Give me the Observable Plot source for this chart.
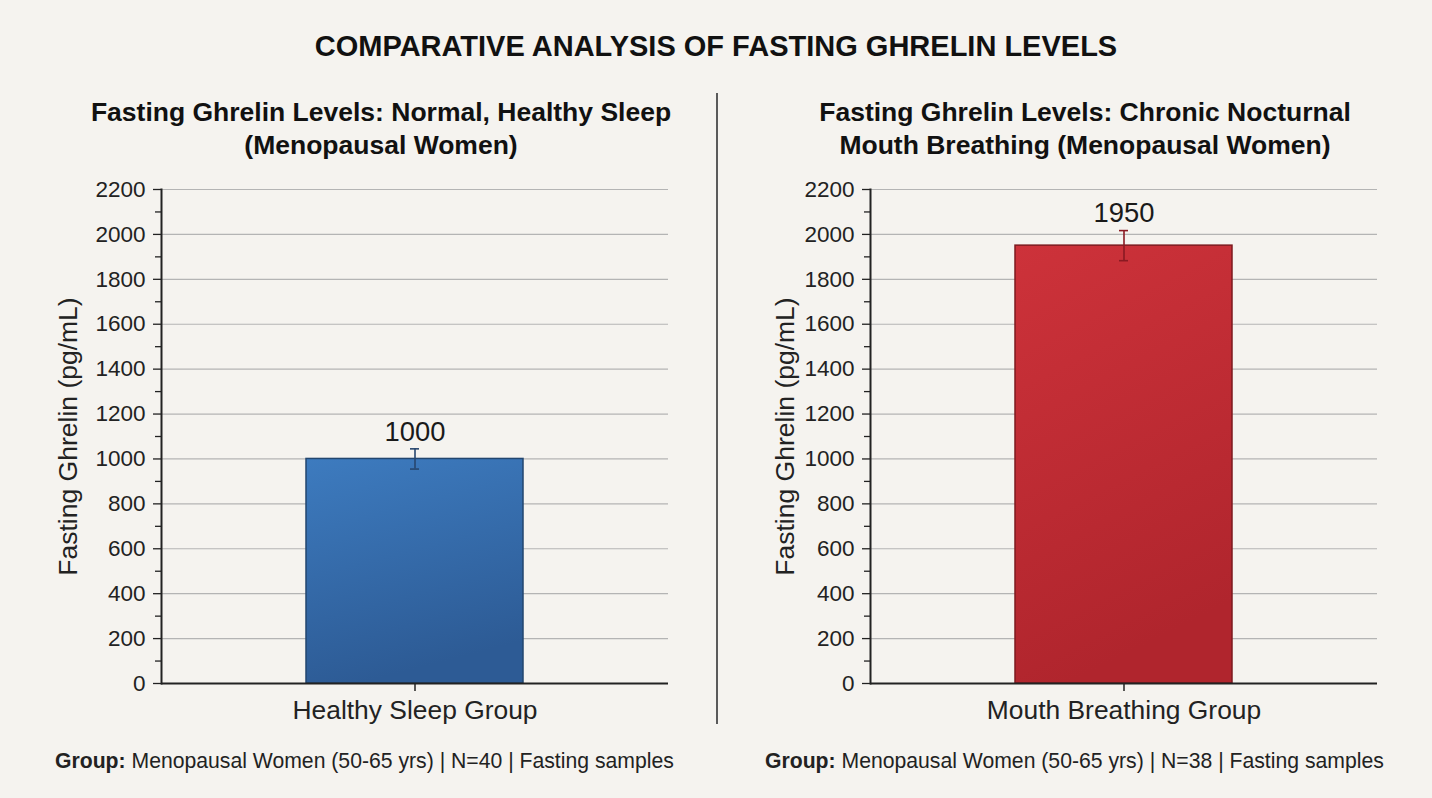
<!DOCTYPE html>
<html><head><meta charset="utf-8">
<script src="https://cdn.jsdelivr.net/npm/d3@7"></script>
<script src="https://cdn.jsdelivr.net/npm/@observablehq/plot@0.6"></script>
<style>
body{margin:0;background:#f5f3ef;width:1432px;height:798px;overflow:hidden;position:relative;font-family:"Liberation Sans",Arial,sans-serif;color:#111}
.abs{position:absolute}
#title{top:29px;left:0;width:1432px;text-align:center;font-weight:bold;font-size:29px;line-height:34px;color:#111}
.sub{font-weight:bold;font-size:26.5px;line-height:33px;text-align:center;width:700px;top:96px;color:#111;white-space:nowrap}
.foot{top:747px;font-size:21.2px;line-height:28px;color:#222;white-space:nowrap}
#divider{left:716px;top:93px;width:2px;height:631px;background:#5a5a5a}
.panel{top:170px}
</style></head>
<body>
<div id="title" class="abs">COMPARATIVE ANALYSIS OF FASTING GHRELIN LEVELS</div>
<div id="sub0" class="abs sub" style="left:31px">Fasting Ghrelin Levels: Normal, Healthy Sleep<br>(Menopausal Women)</div>
<div id="sub1" class="abs sub" style="left:735px">Fasting Ghrelin Levels: Chronic Nocturnal<br>Mouth Breathing (Menopausal Women)</div>
<div id="divider" class="abs"></div>
<div id="p0" class="abs panel" style="left:0px"></div>
<div id="p1" class="abs panel" style="left:717px"></div>
<div id="f0" class="abs foot" style="left:55px"></div>
<div id="f1" class="abs foot" style="left:765px"></div>
<script>
const groups = ["Healthy Sleep Group", "Mouth Breathing Group"];
const means = [1000, 1950];
const errors = [45, 67];
const sampleSizes = [40, 38];
const yTicks = [0, 200, 400, 600, 800, 1000, 1200, 1400, 1600, 1800, 2000, 2200];
const yMinorTicks = [100, 300, 500, 700, 900, 1100, 1300, 1500, 1700, 1900, 2100];
const yLabel = "Fasting Ghrelin (pg/mL)";
const fillTop = ["#3d7bbf", "#cd323a"];
const fillBottom = ["#2d5b95", "#b0252d"];
const strokeColors = ["#22466f", "#7d1a1f"];
const errColors = ["#27466e", "#8a1a22"];

const panelWidths = [717, 715];
const marginLefts = [161, 153];
const marginRights = [49, 55];

groups.forEach((g, i) => {
  const rows = [{group: g, mean: means[i], err: errors[i]}];
  const gid = "grad" + i;
  const defs = () => {
    const d = d3.create("svg:defs");
    const lg = d.append("linearGradient").attr("id", gid).attr("x1", "0").attr("y1", "0").attr("x2", "0.25").attr("y2", "1");
    lg.append("stop").attr("offset", "0%").attr("stop-color", fillTop[i]);
    lg.append("stop").attr("offset", "100%").attr("stop-color", fillBottom[i]);
    return d.node();
  };
  const chart = Plot.plot({
    width: panelWidths[i],
    height: 560,
    marginLeft: marginLefts[i],
    marginRight: marginRights[i],
    marginTop: 19,
    marginBottom: 47,
    style: {background: "transparent", fontFamily: "'Liberation Sans', Arial, sans-serif", color: "#222", overflow: "visible"},
    x: {domain: [g], padding: 0.4, label: null},
    y: {domain: [0, 2200], label: null},
    marks: [
      defs,
      Plot.gridY(yTicks.filter(t => t > 0), {stroke: "#b4b4b4", strokeOpacity: 1, strokeWidth: 1.2}),
      Plot.axisY(yMinorTicks, {tickSize: 6, text: null, stroke: "#222", strokeWidth: 1.3}),
      Plot.axisY(yTicks, {tickSize: 8, tickPadding: 8, fontSize: 22.5, tickFormat: d => String(d), stroke: "#222", strokeWidth: 1.3, fill: "#222", label: null}),
      Plot.text([yLabel], {frameAnchor: "left", rotate: -90, dx: -(marginLefts[i] - 68), fontSize: 26.5, fill: "#222", textAnchor: "middle"}),
      Plot.axisX({tickSize: 8, tickPadding: 9, fontSize: 26.4, stroke: "#222", strokeWidth: 1.5, fill: "#222"}),
      Plot.barY(rows, {x: "group", y: "mean", fill: `url(#${gid})`, stroke: strokeColors[i], strokeWidth: 1.5}),
      Plot.frame({anchor: "left", stroke: "#222", strokeWidth: 2}),
      Plot.ruleY([0], {stroke: "#222", strokeWidth: 2}),
      Plot.ruleX(rows, {x: "group", y1: d => d.mean - d.err, y2: d => d.mean + d.err, stroke: errColors[i], strokeWidth: 1.6}),
      Plot.tickY(rows, {x: "group", y: d => d.mean + d.err, insetLeft: 104, insetRight: 104, stroke: errColors[i], strokeWidth: 1.6}),
      Plot.tickY(rows, {x: "group", y: d => d.mean - d.err, insetLeft: 104, insetRight: 104, stroke: errColors[i], strokeWidth: 1.6}),
      Plot.text(rows, {x: "group", y: d => d.mean + d.err, text: d => String(d.mean), dy: -17, fontSize: 27.4, fill: "#1a1a1a"})
    ]
  });
  document.getElementById("p" + i).appendChild(chart);
  document.getElementById("f" + i).innerHTML = `<b>Group:</b> Menopausal Women (50-65 yrs) | N=${sampleSizes[i]} | Fasting samples`;
});
</script>
</body></html>
